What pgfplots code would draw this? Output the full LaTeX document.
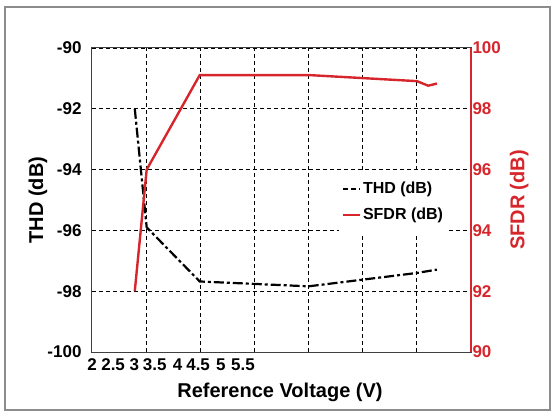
\documentclass[border=0pt]{standalone}
\usepackage{pgfplots}
\pgfplotsset{compat=1.18}
\usepackage{fontspec}
\setmainfont{Liberation Sans}
\definecolor{sred}{RGB}{214,38,44}
\definecolor{framegray}{RGB}{140,140,140}

\pgfplotstableread{
x y
0.79 -92.0
1.01 -95.9
1.99 -97.68
4.00 -97.84
6.00 -97.40
6.37 -97.29
}\thd

\pgfplotstableread{
x y
0.79 92.0
1.01 96.0
1.99 99.11
4.00 99.11
6.00 98.91
6.21 98.76
6.37 98.83
}\sfdr

\begin{document}
\begin{tikzpicture}[x=1pt,y=1pt]
\path (0,0) rectangle (554,415);
\draw[framegray, line width=1.5pt] (5,5) rectangle (550,408);
\begin{axis}[
  at={(92pt,63pt)}, anchor=south west, scale only axis,
  width=379pt, height=304pt,
  xmin=0, xmax=7, ymin=-100, ymax=-90,
  xtick={1,2,3,4,5,6}, xticklabels={},
  ytick={-100,-98,-96,-94,-92,-90},
  grid=major,
  major grid style={black, line width=0.9pt, dash pattern=on 4pt off 3pt},
  major tick length=0,
  axis line style={draw=black!75, line width=1pt},
  extra x ticks={0,0.39,0.78,1.16,1.58,1.96,2.38,2.79},
  extra x tick labels={2,2.5,3,3.5,4,4.5,5,5.5},
  extra x tick style={grid=none, major tick length=0},
  xticklabel style={yshift=-3pt},
  yticklabel style={xshift=-7pt},
  tick label style={font=\bfseries\fontsize{17}{19}\selectfont},
  /pgf/number format/assume math mode=true,
  xlabel={Reference Voltage (V)},
  xlabel style={at={(axis description cs:0.496,-0.133)}, anchor=center, font=\bfseries\fontsize{20}{23}\selectfont},
  ylabel={THD (dB)},
  ylabel style={at={(axis description cs:-0.1425,0.5)}, anchor=center, font=\bfseries\fontsize{20}{23}\selectfont},
]
\addplot[black, line width=2.2pt, dash pattern=on 10pt off 3pt on 3pt off 3pt] table {\thd};
\end{axis}
\begin{axis}[
  at={(92pt,63pt)}, anchor=south west, scale only axis,
  width=379pt, height=304pt,
  xmin=0, xmax=7, ymin=90, ymax=100,
  axis y line*=right, axis x line=none,
  ytick={90,92,94,96,98,100},
  major tick length=0,
  y axis line style={draw=sred, line width=1.2pt},
  yticklabel style={sred, xshift=-2pt},
  tick label style={font=\bfseries\fontsize{17}{19}\selectfont},
  /pgf/number format/assume math mode=true,
  ylabel={SFDR (dB)},
  ylabel style={sred, at={(axis description cs:1.127,0.5)}, anchor=center, font=\bfseries\fontsize{20}{23}\selectfont},
  legend style={at={(axis description cs:0.65,0.599)}, anchor=north west, draw=none, fill=white,
    font=\bfseries\fontsize{16}{18}\selectfont, row sep=9pt, inner xsep=3pt, inner ysep=10pt},
  legend cell align=left,
]
\addlegendimage{black, line width=2.2pt, dash pattern=on 5pt off 3pt}
\addlegendentry{THD (dB)}
\addplot[sred, line width=2.4pt] table {\sfdr};
\addlegendentry{SFDR (dB)}
\end{axis}
\end{tikzpicture}
\end{document}
